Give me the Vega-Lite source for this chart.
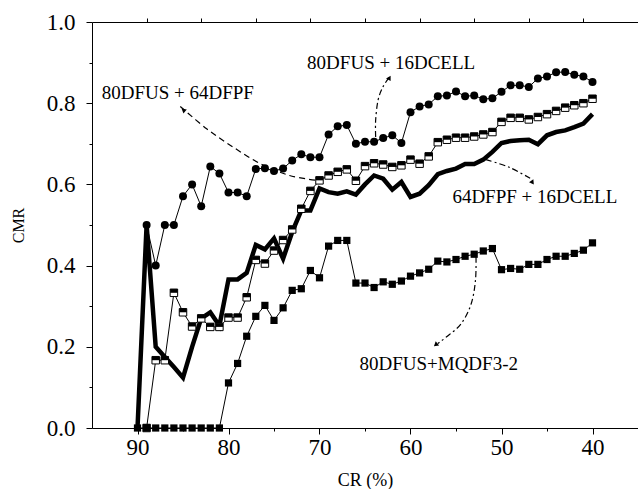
{
  "$schema": "https://vega.github.io/schema/vega-lite/v6.json",
  "width": 546,
  "height": 406,
  "autosize": {"type": "none"},
  "padding": {"left": 92, "top": 22, "right": 0, "bottom": 61},
  "background": "white",
  "config": {
    "font": "Liberation Serif",
    "view": {"stroke": null},
    "axis": {"grid": false, "domainColor": "black", "tickColor": "black", "labelColor": "black", "titleColor": "black", "labelFont": "Liberation Serif", "titleFont": "Liberation Serif", "titleFontWeight": "normal", "domainWidth": 1, "tickWidth": 1}
  },
  "datasets": {
    "series": [
      {"s":"c","x":89,"y":0.50},{"s":"c","x":88,"y":0.40},{"s":"c","x":87,"y":0.50},{"s":"c","x":86,"y":0.50},{"s":"c","x":85,"y":0.571},{"s":"c","x":84,"y":0.600},{"s":"c","x":83,"y":0.546},{"s":"c","x":82,"y":0.644},{"s":"c","x":81,"y":0.627},{"s":"c","x":80,"y":0.580},{"s":"c","x":79,"y":0.580},{"s":"c","x":78,"y":0.571},{"s":"c","x":77,"y":0.638},{"s":"c","x":76,"y":0.640},{"s":"c","x":75,"y":0.633},{"s":"c","x":74,"y":0.639},{"s":"c","x":73,"y":0.659},{"s":"c","x":72,"y":0.674},{"s":"c","x":71,"y":0.667},{"s":"c","x":70,"y":0.667},{"s":"c","x":69,"y":0.723},{"s":"c","x":68,"y":0.743},{"s":"c","x":67,"y":0.746},{"s":"c","x":66,"y":0.700},{"s":"c","x":65,"y":0.705},{"s":"c","x":64,"y":0.705},{"s":"c","x":63,"y":0.714},{"s":"c","x":62,"y":0.721},{"s":"c","x":61,"y":0.702},{"s":"c","x":60,"y":0.778},{"s":"c","x":59,"y":0.792},{"s":"c","x":58,"y":0.797},{"s":"c","x":57,"y":0.817},{"s":"c","x":56,"y":0.819},{"s":"c","x":55,"y":0.829},{"s":"c","x":54,"y":0.817},{"s":"c","x":53,"y":0.819},{"s":"c","x":52,"y":0.810},{"s":"c","x":51,"y":0.812},{"s":"c","x":50,"y":0.828},{"s":"c","x":49,"y":0.844},{"s":"c","x":48,"y":0.844},{"s":"c","x":47,"y":0.840},{"s":"c","x":46,"y":0.861},{"s":"c","x":45,"y":0.866},{"s":"c","x":44,"y":0.876},{"s":"c","x":43,"y":0.877},{"s":"c","x":42,"y":0.870},{"s":"c","x":41,"y":0.866},{"s":"c","x":40,"y":0.852},
      {"s":"o","x":89,"y":0},{"s":"o","x":88,"y":0.167},{"s":"o","x":87,"y":0.167},{"s":"o","x":86,"y":0.333},{"s":"o","x":85,"y":0.285},{"s":"o","x":84,"y":0.25},{"s":"o","x":83,"y":0.27},{"s":"o","x":82,"y":0.249},{"s":"o","x":81,"y":0.249},{"s":"o","x":80,"y":0.272},{"s":"o","x":79,"y":0.272},{"s":"o","x":78,"y":0.322},{"s":"o","x":77,"y":0.414},{"s":"o","x":76,"y":0.405},{"s":"o","x":75,"y":0.437},{"s":"o","x":74,"y":0.463},{"s":"o","x":73,"y":0.489},{"s":"o","x":72,"y":0.54},{"s":"o","x":71,"y":0.584},{"s":"o","x":70,"y":0.61},{"s":"o","x":69,"y":0.622},{"s":"o","x":68,"y":0.631},{"s":"o","x":67,"y":0.637},{"s":"o","x":66,"y":0.609},{"s":"o","x":65,"y":0.645},{"s":"o","x":64,"y":0.652},{"s":"o","x":63,"y":0.649},{"s":"o","x":62,"y":0.643},{"s":"o","x":61,"y":0.647},{"s":"o","x":60,"y":0.661},{"s":"o","x":59,"y":0.651},{"s":"o","x":58,"y":0.669},{"s":"o","x":57,"y":0.704},{"s":"o","x":56,"y":0.71},{"s":"o","x":55,"y":0.715},{"s":"o","x":54,"y":0.715},{"s":"o","x":53,"y":0.718},{"s":"o","x":52,"y":0.723},{"s":"o","x":51,"y":0.729},{"s":"o","x":50,"y":0.754},{"s":"o","x":49,"y":0.764},{"s":"o","x":48,"y":0.764},{"s":"o","x":47,"y":0.76},{"s":"o","x":46,"y":0.766},{"s":"o","x":45,"y":0.773},{"s":"o","x":44,"y":0.781},{"s":"o","x":43,"y":0.789},{"s":"o","x":42,"y":0.795},{"s":"o","x":41,"y":0.80},{"s":"o","x":40,"y":0.811},
      {"s":"t","x":90,"y":0},{"s":"t","x":89,"y":0.50},{"s":"t","x":88,"y":0.20},{"s":"t","x":87,"y":0.175},{"s":"t","x":86,"y":0.15},{"s":"t","x":85,"y":0.124},{"s":"t","x":84,"y":0.20},{"s":"t","x":83,"y":0.27},{"s":"t","x":82,"y":0.285},{"s":"t","x":81,"y":0.252},{"s":"t","x":80,"y":0.366},{"s":"t","x":79,"y":0.366},{"s":"t","x":78,"y":0.382},{"s":"t","x":77,"y":0.451},{"s":"t","x":76,"y":0.44},{"s":"t","x":75,"y":0.467},{"s":"t","x":74,"y":0.417},{"s":"t","x":73,"y":0.483},{"s":"t","x":72,"y":0.536},{"s":"t","x":71,"y":0.536},{"s":"t","x":70,"y":0.59},{"s":"t","x":69,"y":0.581},{"s":"t","x":68,"y":0.577},{"s":"t","x":67,"y":0.583},{"s":"t","x":66,"y":0.575},{"s":"t","x":65,"y":0.60},{"s":"t","x":64,"y":0.622},{"s":"t","x":63,"y":0.614},{"s":"t","x":62,"y":0.587},{"s":"t","x":61,"y":0.606},{"s":"t","x":60,"y":0.569},{"s":"t","x":59,"y":0.577},{"s":"t","x":58,"y":0.598},{"s":"t","x":57,"y":0.625},{"s":"t","x":56,"y":0.633},{"s":"t","x":55,"y":0.639},{"s":"t","x":54,"y":0.65},{"s":"t","x":53,"y":0.65},{"s":"t","x":52,"y":0.661},{"s":"t","x":51,"y":0.68},{"s":"t","x":50,"y":0.702},{"s":"t","x":49,"y":0.707},{"s":"t","x":48,"y":0.709},{"s":"t","x":47,"y":0.71},{"s":"t","x":46,"y":0.699},{"s":"t","x":45,"y":0.721},{"s":"t","x":44,"y":0.729},{"s":"t","x":43,"y":0.733},{"s":"t","x":42,"y":0.741},{"s":"t","x":41,"y":0.75},{"s":"t","x":40,"y":0.773},
      {"s":"m","x":90,"y":0},{"s":"m","x":89,"y":0},{"s":"m","x":88,"y":0},{"s":"m","x":87,"y":0},{"s":"m","x":86,"y":0},{"s":"m","x":85,"y":0},{"s":"m","x":84,"y":0},{"s":"m","x":83,"y":0},{"s":"m","x":82,"y":0},{"s":"m","x":81,"y":0},{"s":"m","x":80,"y":0.111},{"s":"m","x":79,"y":0.159},{"s":"m","x":78,"y":0.226},{"s":"m","x":77,"y":0.275},{"s":"m","x":76,"y":0.302},{"s":"m","x":75,"y":0.265},{"s":"m","x":74,"y":0.296},{"s":"m","x":73,"y":0.339},{"s":"m","x":72,"y":0.343},{"s":"m","x":71,"y":0.388},{"s":"m","x":70,"y":0.37},{"s":"m","x":69,"y":0.448},{"s":"m","x":68,"y":0.462},{"s":"m","x":67,"y":0.462},{"s":"m","x":66,"y":0.357},{"s":"m","x":65,"y":0.357},{"s":"m","x":64,"y":0.346},{"s":"m","x":63,"y":0.36},{"s":"m","x":62,"y":0.354},{"s":"m","x":61,"y":0.362},{"s":"m","x":60,"y":0.374},{"s":"m","x":59,"y":0.382},{"s":"m","x":58,"y":0.391},{"s":"m","x":57,"y":0.411},{"s":"m","x":56,"y":0.409},{"s":"m","x":55,"y":0.415},{"s":"m","x":54,"y":0.423},{"s":"m","x":53,"y":0.428},{"s":"m","x":52,"y":0.436},{"s":"m","x":51,"y":0.442},{"s":"m","x":50,"y":0.39},{"s":"m","x":49,"y":0.393},{"s":"m","x":48,"y":0.391},{"s":"m","x":47,"y":0.403},{"s":"m","x":46,"y":0.403},{"s":"m","x":45,"y":0.415},{"s":"m","x":44,"y":0.423},{"s":"m","x":43,"y":0.423},{"s":"m","x":42,"y":0.43},{"s":"m","x":41,"y":0.438},{"s":"m","x":40,"y":0.456}
    ],
    "arrows": [
      {"a":1,"i":1,"x":85.3,"y":0.792},{"a":1,"i":2,"x":82.4,"y":0.737},{"a":1,"i":3,"x":79.5,"y":0.692},{"a":1,"i":4,"x":76.5,"y":0.651},{"a":1,"i":5,"x":73.3,"y":0.622},{"a":1,"i":6,"x":70.3,"y":0.61},
      {"a":2,"i":1,"x":63.83,"y":0.717},{"a":2,"i":2,"x":63.83,"y":0.758},{"a":2,"i":3,"x":63.57,"y":0.807},{"a":2,"i":4,"x":63.03,"y":0.84},{"a":2,"i":5,"x":62.29,"y":0.865},
      {"a":3,"i":1,"x":51.7,"y":0.661},{"a":3,"i":2,"x":49.14,"y":0.642},{"a":3,"i":3,"x":46.6,"y":0.612},
      {"a":4,"i":1,"x":52.8,"y":0.421},{"a":4,"i":2,"x":52.86,"y":0.364},{"a":4,"i":3,"x":53.33,"y":0.306},{"a":4,"i":4,"x":54.43,"y":0.257},{"a":4,"i":5,"x":56.07,"y":0.224},{"a":4,"i":6,"x":57.0,"y":0.208}
    ],
    "labels": [
      {"label":"80DFUS + 64DFPF","x":85.57,"y":0.811},
      {"label":"80DFUS + 16DCELL","x":62.13,"y":0.885},
      {"label":"64DFPF + 16DCELL","x":46.34,"y":0.553},
      {"label":"80DFUS+MQDF3-2","x":56.9,"y":0.142}
    ],
    "heads": [
      {"a":1,"x":84.9,"y":0.782},
      {"a":2,"x":62.35,"y":0.861},
      {"a":3,"x":46.64,"y":0.606},
      {"a":4,"x":57.17,"y":0.206}
    ]
  },
  "resolve": {"axis": {"x": "independent", "y": "independent"}},
  "layer": [
    {
      "data": {"name": "series"},
      "transform": [{"filter": "datum.s == 't'"}],
      "mark": {"type": "line", "color": "black", "strokeWidth": 4.5, "strokeJoin": "miter"},
      "encoding": {
        "x": {"field": "x", "type": "quantitative", "scale": {"domain": [35, 95], "reverse": true, "nice": false, "zero": false},
          "axis": {"orient": "bottom", "values": [90, 80, 70, 60, 50, 40], "tickSize": 6, "labelFontSize": 23, "labelPadding": 2, "labelFlush": false, "labelOverlap": false, "title": "CR (%)", "titleFontSize": 18, "titlePadding": 12}},
        "y": {"field": "y", "type": "quantitative", "scale": {"domain": [0, 1], "nice": false},
          "axis": {"orient": "left", "values": [0, 0.2, 0.4, 0.6, 0.8, 1], "format": ".1f", "tickSize": 6, "labelFontSize": 23, "labelPadding": 11, "labelFlush": false, "labelOverlap": false, "title": "CMR", "titleFontSize": 16, "titlePadding": 20}}
      }
    },
    {
      "data": {"name": "series"},
      "transform": [{"filter": "datum.s == 'c'"}],
      "mark": {"type": "line", "color": "black", "strokeWidth": 1},
      "encoding": {
        "x": {"field": "x", "type": "quantitative", "scale": {"domain": [35, 95], "reverse": true, "nice": false, "zero": false},
          "axis": {"orient": "bottom", "values": [85, 75, 65, 55, 45], "tickSize": 3, "labels": false, "domain": false, "title": null}},
        "y": {"field": "y", "type": "quantitative", "scale": {"domain": [0, 1], "nice": false},
          "axis": {"orient": "left", "values": [0.1, 0.3, 0.5, 0.7, 0.9], "tickSize": 3, "labels": false, "domain": false, "title": null}}
      }
    },
    {
      "data": {"name": "series"},
      "transform": [{"filter": "datum.s == 'c'"}],
      "mark": {"type": "point", "shape": "circle", "filled": true, "color": "black", "size": 64, "opacity": 1},
      "encoding": {
        "x": {"field": "x", "type": "quantitative", "scale": {"domain": [35, 95], "reverse": true, "nice": false, "zero": false},
          "axis": {"orient": "top", "values": [89, 83, 77, 71, 65, 59, 53, 47, 41], "tickSize": 4, "labels": false, "title": null}},
        "y": {"field": "y", "type": "quantitative", "scale": {"domain": [0, 1], "nice": false}, "axis": null}
      }
    },
    {
      "data": {"name": "series"},
      "transform": [{"filter": "datum.s == 'o'"}],
      "mark": {"type": "line", "color": "black", "strokeWidth": 1},
      "encoding": {
        "x": {"field": "x", "type": "quantitative", "scale": {"domain": [35, 95], "reverse": true, "nice": false, "zero": false}, "axis": null},
        "y": {"field": "y", "type": "quantitative", "scale": {"domain": [0, 1], "nice": false}, "axis": null}
      }
    },
    {
      "data": {"name": "series"},
      "transform": [{"filter": "datum.s == 'o'"}],
      "mark": {"type": "point", "shape": "square", "filled": true, "fill": "white", "stroke": "black", "strokeWidth": 1, "size": 56, "opacity": 1},
      "encoding": {
        "x": {"field": "x", "type": "quantitative", "scale": {"domain": [35, 95], "reverse": true, "nice": false, "zero": false}, "axis": null},
        "y": {"field": "y", "type": "quantitative", "scale": {"domain": [0, 1], "nice": false}, "axis": null}
      }
    },
    {
      "data": {"name": "series"},
      "transform": [{"filter": "datum.s == 'o'"}],
      "mark": {"type": "point", "shape": "M-1,-1L1,-1L1,0L-1,0Z", "filled": true, "color": "black", "size": 56, "opacity": 1},
      "encoding": {
        "x": {"field": "x", "type": "quantitative", "scale": {"domain": [35, 95], "reverse": true, "nice": false, "zero": false}, "axis": null},
        "y": {"field": "y", "type": "quantitative", "scale": {"domain": [0, 1], "nice": false}, "axis": null}
      }
    },
    {
      "data": {"name": "series"},
      "transform": [{"filter": "datum.s == 'm'"}],
      "mark": {"type": "line", "color": "black", "strokeWidth": 1},
      "encoding": {
        "x": {"field": "x", "type": "quantitative", "scale": {"domain": [35, 95], "reverse": true, "nice": false, "zero": false}, "axis": null},
        "y": {"field": "y", "type": "quantitative", "scale": {"domain": [0, 1], "nice": false}, "axis": null}
      }
    },
    {
      "data": {"name": "series"},
      "transform": [{"filter": "datum.s == 'm'"}],
      "mark": {"type": "point", "shape": "square", "filled": true, "color": "black", "size": 52, "opacity": 1},
      "encoding": {
        "x": {"field": "x", "type": "quantitative", "scale": {"domain": [35, 95], "reverse": true, "nice": false, "zero": false}, "axis": null},
        "y": {"field": "y", "type": "quantitative", "scale": {"domain": [0, 1], "nice": false}, "axis": null}
      }
    },
    {
      "data": {"name": "arrows"},
      "transform": [{"filter": "datum.a == 1"}],
      "mark": {"type": "line", "color": "black", "strokeWidth": 1.2, "strokeDash": [6, 4], "interpolate": "cardinal"},
      "encoding": {
        "x": {"field": "x", "type": "quantitative", "scale": {"domain": [35, 95], "reverse": true, "nice": false, "zero": false}, "axis": null},
        "y": {"field": "y", "type": "quantitative", "scale": {"domain": [0, 1], "nice": false}, "axis": null},
        "order": {"field": "i"}
      }
    },
    {
      "data": {"name": "arrows"},
      "transform": [{"filter": "datum.a != 1"}],
      "mark": {"type": "line", "color": "black", "strokeWidth": 1.2, "strokeDash": [6, 3, 2, 3], "interpolate": "cardinal"},
      "encoding": {
        "x": {"field": "x", "type": "quantitative", "scale": {"domain": [35, 95], "reverse": true, "nice": false, "zero": false}, "axis": null},
        "y": {"field": "y", "type": "quantitative", "scale": {"domain": [0, 1], "nice": false}, "axis": null},
        "detail": {"field": "a"},
        "order": {"field": "i"}
      }
    },
    {
      "data": {"name": "heads"},
      "transform": [{"filter": "datum.a == 1"}],
      "mark": {"type": "point", "shape": "triangle", "filled": true, "color": "black", "size": 28, "angle": 309, "opacity": 1},
      "encoding": {
        "x": {"field": "x", "type": "quantitative", "scale": {"domain": [35, 95], "reverse": true, "nice": false, "zero": false}, "axis": null},
        "y": {"field": "y", "type": "quantitative", "scale": {"domain": [0, 1], "nice": false}, "axis": null}
      }
    },
    {
      "data": {"name": "heads"},
      "transform": [{"filter": "datum.a == 2"}],
      "mark": {"type": "point", "shape": "triangle", "filled": true, "color": "black", "size": 28, "angle": 30, "opacity": 1},
      "encoding": {
        "x": {"field": "x", "type": "quantitative", "scale": {"domain": [35, 95], "reverse": true, "nice": false, "zero": false}, "axis": null},
        "y": {"field": "y", "type": "quantitative", "scale": {"domain": [0, 1], "nice": false}, "axis": null}
      }
    },
    {
      "data": {"name": "heads"},
      "transform": [{"filter": "datum.a == 3"}],
      "mark": {"type": "point", "shape": "triangle", "filled": true, "color": "black", "size": 28, "angle": 145, "opacity": 1},
      "encoding": {
        "x": {"field": "x", "type": "quantitative", "scale": {"domain": [35, 95], "reverse": true, "nice": false, "zero": false}, "axis": null},
        "y": {"field": "y", "type": "quantitative", "scale": {"domain": [0, 1], "nice": false}, "axis": null}
      }
    },
    {
      "data": {"name": "heads"},
      "transform": [{"filter": "datum.a == 4"}],
      "mark": {"type": "point", "shape": "triangle", "filled": true, "color": "black", "size": 28, "angle": 230, "opacity": 1},
      "encoding": {
        "x": {"field": "x", "type": "quantitative", "scale": {"domain": [35, 95], "reverse": true, "nice": false, "zero": false}, "axis": null},
        "y": {"field": "y", "type": "quantitative", "scale": {"domain": [0, 1], "nice": false}, "axis": null}
      }
    },
    {
      "data": {"name": "labels"},
      "mark": {"type": "text", "font": "Liberation Serif", "fontSize": 19, "color": "black", "align": "center", "baseline": "alphabetic"},
      "encoding": {
        "x": {"field": "x", "type": "quantitative", "scale": {"domain": [35, 95], "reverse": true, "nice": false, "zero": false}, "axis": null},
        "y": {"field": "y", "type": "quantitative", "scale": {"domain": [0, 1], "nice": false}, "axis": null},
        "text": {"field": "label"}
      }
    }
  ]
}
